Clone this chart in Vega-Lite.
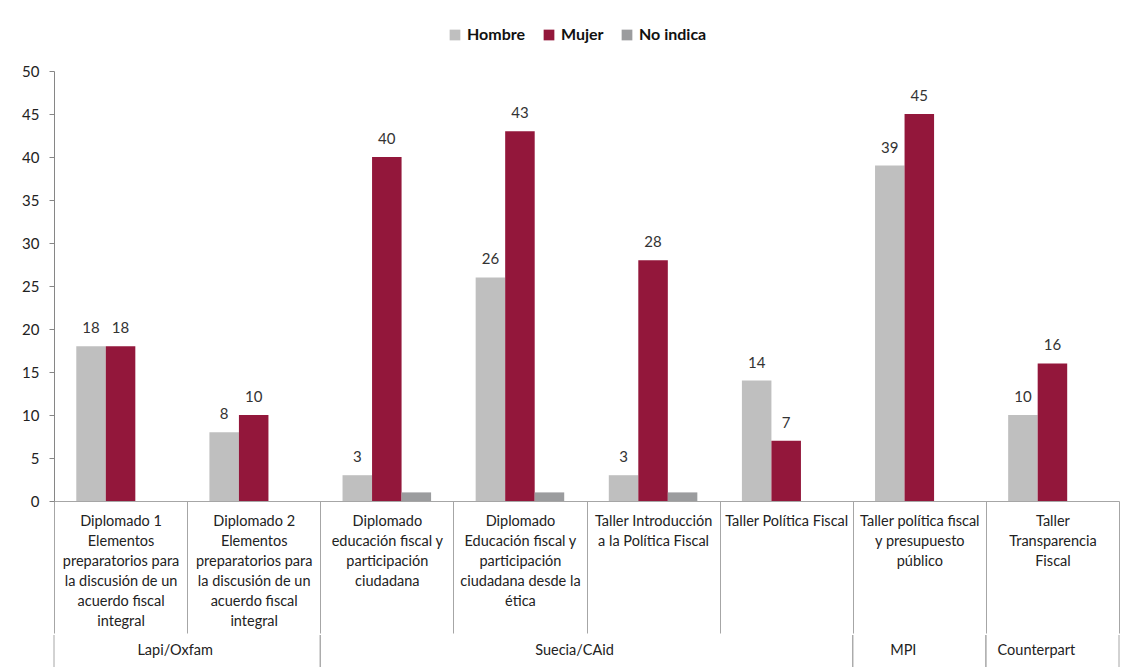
{
  "$schema": "https://vega.github.io/schema/vega-lite/v6.json",
  "padding": {"left": 21, "top": 27, "right": 12, "bottom": 2},
  "background": "white",
  "config": {"font": "Lato", "view": {"stroke": null}, "concat": {"spacing": 0}, "axis": {"domain": false, "ticks": false, "grid": false}},
  "datasets": {
    "bars": [
      {"curso": "Diplomado 1\nElementos\npreparatorios para\nla discusión de un\nacuerdo fiscal\nintegral", "sexo": "Hombre", "n": 18},
      {"curso": "Diplomado 1\nElementos\npreparatorios para\nla discusión de un\nacuerdo fiscal\nintegral", "sexo": "Mujer", "n": 18},
      {"curso": "Diplomado 2\nElementos\npreparatorios para\nla discusión de un\nacuerdo fiscal\nintegral", "sexo": "Hombre", "n": 8},
      {"curso": "Diplomado 2\nElementos\npreparatorios para\nla discusión de un\nacuerdo fiscal\nintegral", "sexo": "Mujer", "n": 10},
      {"curso": "Diplomado\neducación fiscal y\nparticipación\nciudadana", "sexo": "Hombre", "n": 3},
      {"curso": "Diplomado\neducación fiscal y\nparticipación\nciudadana", "sexo": "Mujer", "n": 40},
      {"curso": "Diplomado\neducación fiscal y\nparticipación\nciudadana", "sexo": "No indica", "n": 1},
      {"curso": "Diplomado\nEducación fiscal y\nparticipación\nciudadana desde la\nética", "sexo": "Hombre", "n": 26},
      {"curso": "Diplomado\nEducación fiscal y\nparticipación\nciudadana desde la\nética", "sexo": "Mujer", "n": 43},
      {"curso": "Diplomado\nEducación fiscal y\nparticipación\nciudadana desde la\nética", "sexo": "No indica", "n": 1},
      {"curso": "Taller Introducción\na la Política Fiscal", "sexo": "Hombre", "n": 3},
      {"curso": "Taller Introducción\na la Política Fiscal", "sexo": "Mujer", "n": 28},
      {"curso": "Taller Introducción\na la Política Fiscal", "sexo": "No indica", "n": 1},
      {"curso": "Taller Política Fiscal", "sexo": "Hombre", "n": 14},
      {"curso": "Taller Política Fiscal", "sexo": "Mujer", "n": 7},
      {"curso": "Taller política fiscal\ny presupuesto\npúblico", "sexo": "Hombre", "n": 39},
      {"curso": "Taller política fiscal\ny presupuesto\npúblico", "sexo": "Mujer", "n": 45},
      {"curso": "Taller\nTransparencia\nFiscal", "sexo": "Hombre", "n": 10},
      {"curso": "Taller\nTransparencia\nFiscal", "sexo": "Mujer", "n": 16}
    ],
    "groups": [
      {"grupo": "Lapi/Oxfam", "span": 2, "first": "Diplomado 1\nElementos\npreparatorios para\nla discusión de un\nacuerdo fiscal\nintegral", "last": "Diplomado 2\nElementos\npreparatorios para\nla discusión de un\nacuerdo fiscal\nintegral", "mid": "Diplomado 2\nElementos\npreparatorios para\nla discusión de un\nacuerdo fiscal\nintegral"},
      {"grupo": "Suecia/CAid", "span": 4, "first": "Diplomado\neducación fiscal y\nparticipación\nciudadana", "last": "Taller Política Fiscal", "mid": "Taller Introducción\na la Política Fiscal"},
      {"grupo": "MPI", "span": 1, "first": "Taller política fiscal\ny presupuesto\npúblico", "last": "Taller política fiscal\ny presupuesto\npúblico", "mid": "Taller política fiscal\ny presupuesto\npúblico"},
      {"grupo": "Counterpart", "span": 1, "first": "Taller\nTransparencia\nFiscal", "last": "Taller\nTransparencia\nFiscal", "mid": "Taller\nTransparencia\nFiscal"}
    ]
  },
  "vconcat": [
    {
      "width": 1065,
      "height": 430,
      "view": {"stroke": null},
      "data": {"name": "bars"},
      "encoding": {
        "x": {
          "field": "curso", "type": "nominal",
          "scale": {
            "domain": [
              "Diplomado 1\nElementos\npreparatorios para\nla discusión de un\nacuerdo fiscal\nintegral",
              "Diplomado 2\nElementos\npreparatorios para\nla discusión de un\nacuerdo fiscal\nintegral",
              "Diplomado\neducación fiscal y\nparticipación\nciudadana",
              "Diplomado\nEducación fiscal y\nparticipación\nciudadana desde la\nética",
              "Taller Introducción\na la Política Fiscal",
              "Taller Política Fiscal",
              "Taller política fiscal\ny presupuesto\npúblico",
              "Taller\nTransparencia\nFiscal"
            ],
            "paddingInner": 0, "paddingOuter": 0
          },
          "axis": {
            "title": null,
            "domain": true,
            "ticks": true,
            "labelExpr": "split(datum.label, '\\n')",
            "labelAngle": 0,
            "tickBand": "extent",
            "tickSize": 132,
            "labelPadding": -119,
            "labelBaseline": "top",
            "labelFontSize": 14.5,
            "labelLineHeight": 20,
            "labelColor": "#222222",
            "labelLimit": 300,
            "domainColor": "#A6A6A6",
            "tickColor": "#A6A6A6"
          }
        },
        "xOffset": {"field": "sexo", "type": "nominal", "scale": {"domain": ["Hombre", "Mujer", "No indica"], "paddingInner": 0, "paddingOuter": 0.755}},
        "y": {
          "field": "n", "type": "quantitative",
          "scale": {"domain": [0, 50]},
          "axis": {
            "title": null,
            "domain": true,
            "ticks": true,
            "values": [0, 5, 10, 15, 20, 25, 30, 35, 40, 45, 50],
            "grid": false,
            "tickSize": 5,
            "labelPadding": 10,
            "labelFontSize": 15,
            "labelColor": "#222222",
            "domainColor": "#868686",
            "tickColor": "#868686"
          }
        }
      },
      "layer": [
        {
          "mark": {"type": "bar"},
          "encoding": {
            "color": {
              "field": "sexo", "type": "nominal",
              "scale": {"domain": ["Hombre", "Mujer", "No indica"], "range": ["#BFBFBF", "#93173B", "#9B9C9E"]},
              "legend": {
                "title": null,
                "orient": "none",
                "direction": "horizontal",
                "legendX": 393,
                "legendY": -44,
                "symbolType": "square",
                "symbolSize": 115,
                "symbolStrokeWidth": 0,
                "labelFontSize": 16,
                "labelFontWeight": "bold",
                "labelColor": "#111111",
                "columnPadding": 15
              }
            }
          }
        },
        {
          "transform": [{"filter": "datum.sexo != 'No indica'"}],
          "mark": {"type": "text", "baseline": "alphabetic", "dy": -13, "fontSize": 15, "color": "#333333"},
          "encoding": {"text": {"field": "n", "type": "quantitative"}}
        }
      ]
    },
    {
      "width": 1065,
      "height": 32,
      "view": {"stroke": null, "fill": null},
      "data": {"name": "groups"},
      "layer": [
        {
          "mark": {"type": "rule", "color": "#A6A6A6"},
          "encoding": {"x": {"field": "first", "type": "nominal", "bandPosition": 0, "axis": null,
            "scale": {
              "domain": [
                "Diplomado 1\nElementos\npreparatorios para\nla discusión de un\nacuerdo fiscal\nintegral",
                "Diplomado 2\nElementos\npreparatorios para\nla discusión de un\nacuerdo fiscal\nintegral",
                "Diplomado\neducación fiscal y\nparticipación\nciudadana",
                "Diplomado\nEducación fiscal y\nparticipación\nciudadana desde la\nética",
                "Taller Introducción\na la Política Fiscal",
                "Taller Política Fiscal",
                "Taller política fiscal\ny presupuesto\npúblico",
                "Taller\nTransparencia\nFiscal"
              ],
              "paddingInner": 0, "paddingOuter": 0
            }}}
        },
        {
          "mark": {"type": "rule", "color": "#A6A6A6"},
          "encoding": {"x": {"field": "last", "type": "nominal", "bandPosition": 1, "axis": null}}
        },
        {
          "transform": [{"filter": "datum.span % 2 == 0"}],
          "mark": {"type": "text", "fontSize": 14.5, "color": "#222222", "dx": -12},
          "encoding": {"x": {"field": "mid", "type": "nominal", "bandPosition": 0, "axis": null}, "text": {"field": "grupo"}}
        },
        {
          "transform": [{"filter": "datum.span % 2 == 1"}],
          "mark": {"type": "text", "fontSize": 14.5, "color": "#222222", "dx": -16},
          "encoding": {"x": {"field": "mid", "type": "nominal", "bandPosition": 0.5, "axis": null}, "text": {"field": "grupo"}}
        }
      ],
      "resolve": {"scale": {"x": "shared"}},
      "encoding": {}
    }
  ],
  "resolve": {"scale": {"x": "independent"}}
}
